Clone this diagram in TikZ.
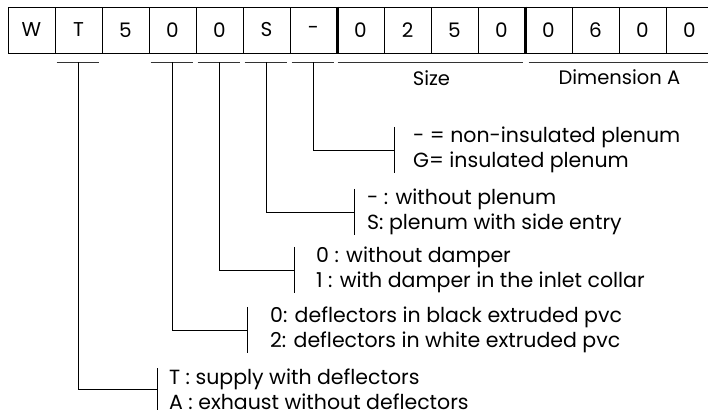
\documentclass[tikz,border=0pt]{standalone}
\usepackage{fontspec}
\setmainfont{Poppins}
\usetikzlibrary{positioning}

\begin{document}
\begin{tikzpicture}[
  x=1pt, y=1pt,
  cell/.style={draw, line width=0.8pt, minimum width=47pt, minimum height=46pt, inner sep=0pt, font=\fontsize{20}{24}\selectfont},
  underline/.style={line width=0.8pt, draw=black!80},
  connector/.style={line width=0.8pt},
  caption/.style={font=\fontsize{19.5}{24}\selectfont, inner sep=0pt},
  choice/.style={anchor=west, align=left, inner ysep=0pt, font=\fontsize{20.5}{25}\selectfont}
]
  \clip (0,0) rectangle (708,-418);
  \foreach \ch [count=\i] in {W,T,5,0,0,S,-,0,2,5,0,0,6,0,0}
    \node[cell] (cellnode\i) at ({8+47*(\i-0.5)},-30) {\ch};
  \draw[line width=2.5pt] (cellnode7.north east) -- (cellnode7.south east);
  \draw[line width=2.5pt] (cellnode11.north east) -- (cellnode11.south east);

  % underlines below the code fields
  \foreach \i in {2,4,5,6,7} {
    \draw[underline] ([shift={(2,-9)}]cellnode\i.south west) -- ([shift={(-3,-9)}]cellnode\i.south east);
    \coordinate (mark\i) at ([yshift=-9pt]cellnode\i.south);
  }
  \draw[underline] ([shift={(1,-9)}]cellnode8.south west) -- ([shift={(-2,-9)}]cellnode11.south east);
  \draw[underline] ([shift={(4,-9)}]cellnode12.south west) -- ([yshift=-9pt]cellnode15.south east);
  \node[caption] (sizenode) at ([yshift=-25pt]cellnode9.south east) {Size};
  \node[caption] (dimnode) at ([yshift=-24pt]cellnode13.south east) {Dimension A};

  % option groups
  \node[choice, inner xsep=19pt] (plenumtype) at (394,-150) {- = non-insulated plenum\\G= insulated plenum};
  \node[choice, inner xsep=13pt] (plenumentry) at (354,-212) {- : without plenum\\S: plenum with side entry};
  \node[choice, inner xsep=22pt] (damper) at (294,-270) {0 : without damper\\1 : with damper in the inlet collar};
  \node[choice, inner xsep=23pt] (deflector) at (247,-330) {0: deflectors in black extruded pvc\\2: deflectors in white extruded pvc};
  \node[choice, inner xsep=12pt] (supply) at (157,-389) {T : supply with deflectors\\A : exhaust without deflectors};
  \foreach \g in {plenumtype,plenumentry,damper,deflector,supply}
    \draw[connector] (\g.north west) -- (\g.south west);

  \draw[connector] (mark7) |- (plenumtype.west);
  \draw[connector] (mark6) |- (plenumentry.west);
  \draw[connector] (mark5) |- (damper.west);
  \draw[connector] (mark4) |- (deflector.west);
  \draw[connector] (mark2) |- (supply.west);
\end{tikzpicture}
\end{document}
